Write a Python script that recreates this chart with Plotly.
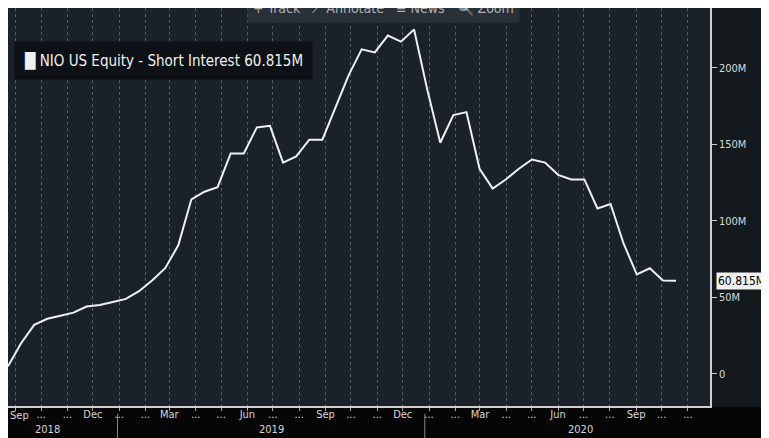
import plotly.graph_objects as go
import pandas as pd

first_date, last_date = "2018-08-23", "2020-10-18"
values = [5, 20, 32, 36, 38, 40, 44, 45, 47, 49, 54, 61, 69, 84, 114, 119, 122, 144, 144, 161,
          162, 138, 142, 153, 153, 174, 195, 212, 210, 221, 217, 225, 186, 151, 169, 171, 134, 121,
          127, 134, 140, 138, 130, 127, 127, 108, 111, 85, 65, 69, 61, 60.815]
dates = pd.date_range(first_date, last_date, periods=len(values))
values_m = [v * 1e6 for v in values]
ytick_vals = [0, 50e6, 100e6, 150e6, 200e6]
ytick_text = ["0", "50M", "100M", "150M", "200M"]
months = pd.date_range("2018-09-01", "2020-11-01", freq="MS")
month_text = [m.strftime("%b") if m.month in (3, 6, 9, 12) else "..." for m in months]
FONT = "DejaVu Sans Condensed, Liberation Sans Narrow, sans-serif"

fig = go.Figure(go.Scatter(x=dates, y=values_m, mode="lines",
                           line=dict(color="#f0f0f0", width=2), hoverinfo="skip"))
fig.update_layout(
    width=769, height=438, margin=dict(l=0, r=67, t=0, b=40),
    paper_bgcolor="#14191e", plot_bgcolor="#1a2128", showlegend=False,
    font=dict(family=FONT, color="#d8d8d8", size=12),
    xaxis=dict(range=["2018-08-23", "2020-11-27"], tickvals=months, ticktext=month_text,
               tickfont=dict(size=11, color="#d8d8d8"), ticks="outside", ticklen=3,
               ticklabelstandoff=-6,
               tickcolor="#aaa", showgrid=True, gridcolor="#5a6068", griddash="dot",
               gridwidth=1, showline=True, linecolor="#cfcfcf", linewidth=1.5, zeroline=False),
    yaxis=dict(side="right", range=[-21e6, 239e6], tickvals=ytick_vals, ticktext=ytick_text,
               ticks="outside", ticklen=5, tickcolor="#cfcfcf", showgrid=False,
               showline=True, linecolor="#cfcfcf", linewidth=1.5, zeroline=False,
               tickfont=dict(size=11, color="#d8d8d8")),
)
fig.add_shape(type="rect", xref="paper", yref="paper", x0=-0.01, x1=1.12, y0=-0.2, y1=-0.003,
              fillcolor="#050505", line_width=0, layer="below")
fig.add_annotation(x=0.0, y=-0.003, xref="paper", yref="paper", xanchor="left", yanchor="top",
                   text="Sep", showarrow=False, font=dict(size=11, color="#d8d8d8"))
for yr, xc in [("2018", "2018-10-08"), ("2019", "2019-06-30"), ("2020", "2020-06-28")]:
    fig.add_annotation(x=xc, y=-0.058, xref="x", yref="paper", text=yr, showarrow=False,
                       yanchor="middle", font=dict(size=11, color="#d8d8d8"))
for sep in ["2018-12-30", "2019-12-27"]:
    fig.add_shape(type="line", x0=sep, x1=sep, xref="x", yref="paper", y0=-0.02, y1=-0.1,
                  line=dict(color="#888", width=1))
fig.add_annotation(x=0.008, y=0.918, xref="paper", yref="paper", xanchor="left",
                   text="█ NIO US Equity - Short Interest 60.815M", showarrow=False,
                   bgcolor="#0d1115", borderpad=9, font=dict(size=15, color="#f0f0f0"))
fig.add_annotation(x=0.535, y=1.0, xref="paper", yref="paper", yanchor="middle",
                   text="+ Track   ⟋ Annotate   ≡ News   🔍 Zoom",
                   showarrow=False, bgcolor="#2a3038", borderpad=5, font=dict(size=14, color="#b0b0b0"))
fig.add_annotation(x=1.0, y=60.815e6, xref="paper", yref="y", xanchor="left", text="60.815M",
                   showarrow=False, bgcolor="#f0f0f0", font=dict(size=12, color="#000"), borderpad=1, xshift=6)
fig.write_html("out.html")
